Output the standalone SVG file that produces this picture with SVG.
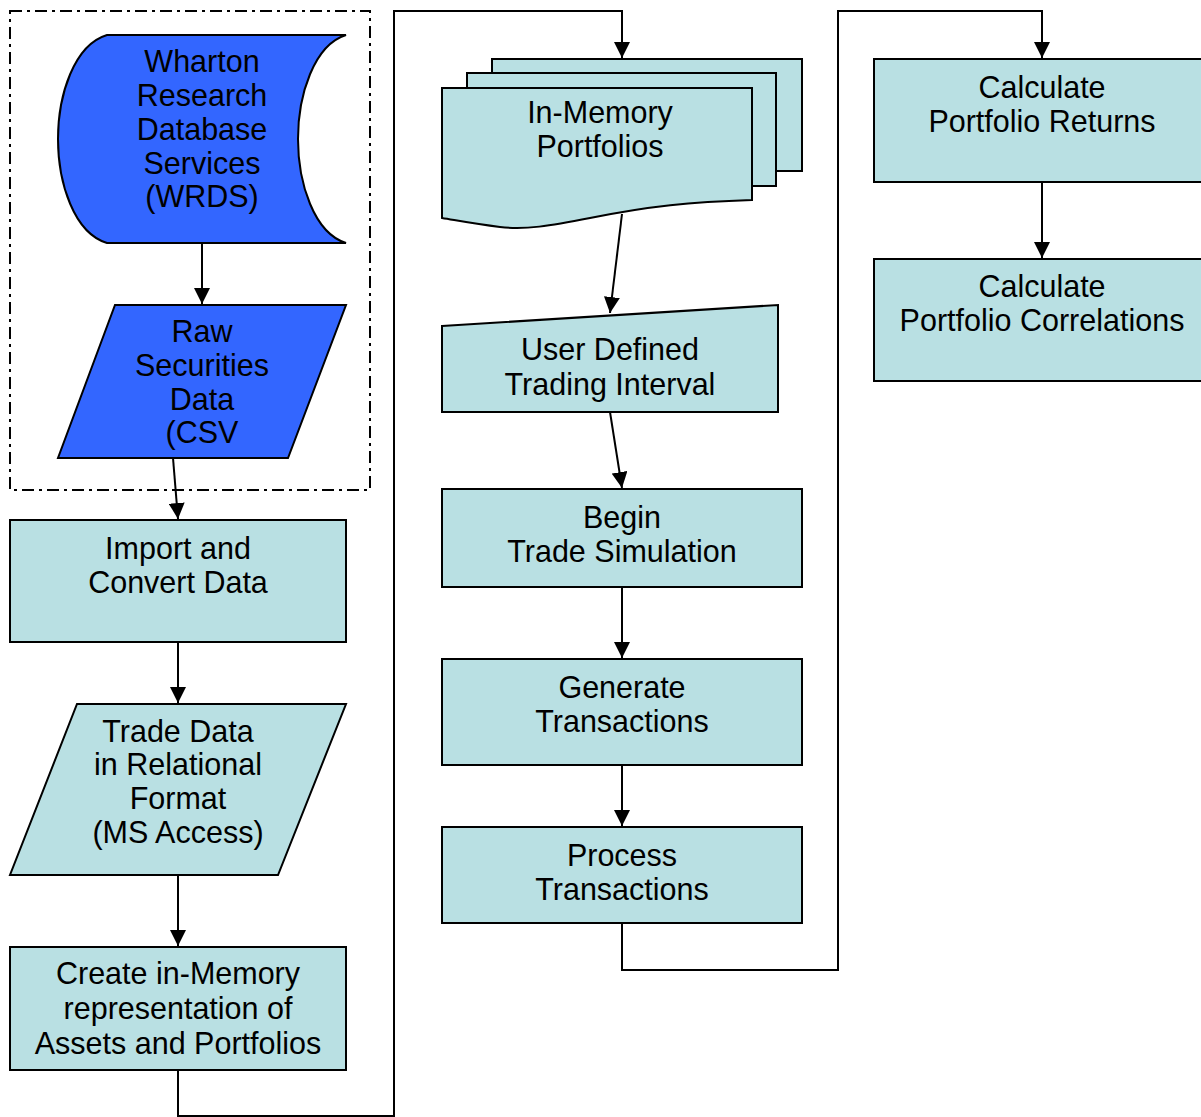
<svg xmlns="http://www.w3.org/2000/svg" width="1201" height="1117" viewBox="0 0 1201 1117">
<style>
text{font-family:"Liberation Sans",Arial,sans-serif;font-size:30.5px;fill:#000;text-anchor:middle}
.t{fill:#B9E0E3;stroke:#000;stroke-width:2}
.b{fill:#3366FF;stroke:#000;stroke-width:2}
.c{fill:none;stroke:#000;stroke-width:2}
</style>
<defs>
<marker id="ah" markerUnits="userSpaceOnUse" markerWidth="16" markerHeight="16" viewBox="0 0 16 16" refX="16" refY="8" orient="auto">
<path d="M0,0 L16,8 L0,16 Z" fill="#000"/>
</marker>
</defs>
<rect x="10" y="11" width="360" height="479" fill="none" stroke="#000" stroke-width="2" stroke-dasharray="12 5 3 5"/>
<g id="connectors">
<path class="c" d="M202,243 L202,304" marker-end="url(#ah)"/>
<path class="c" d="M173,458 L178,519" marker-end="url(#ah)"/>
<path class="c" d="M178,642 L178,703" marker-end="url(#ah)"/>
<path class="c" d="M178,875 L178,946" marker-end="url(#ah)"/>
<path class="c" d="M178,1070 L178,1116 L394,1116 L394,11 L622,11 L622,58" marker-end="url(#ah)"/>
<path class="c" d="M622,214 L610,313" marker-end="url(#ah)"/>
<path class="c" d="M610,412 L622,488" marker-end="url(#ah)"/>
<path class="c" d="M622,587 L622,658" marker-end="url(#ah)"/>
<path class="c" d="M622,765 L622,826" marker-end="url(#ah)"/>
<path class="c" d="M622,923 L622,970 L838,970 L838,11 L1042,11 L1042,58" marker-end="url(#ah)"/>
<path class="c" d="M1042,182 L1042,258" marker-end="url(#ah)"/>
</g>
<g id="wrds">
<path class="b" d="M107,35 L346,35 C314,45 298,95 298,139 C298,183 314,233 346,243 L107,243 C74,233 58,183 58,139 C58,95 74,45 107,35 Z"/>
<text x="202" y="72">Wharton</text>
<text x="202" y="106">Research</text>
<text x="202" y="140">Database</text>
<text x="202" y="174">Services</text>
<text x="202" y="207">(WRDS)</text>
</g>
<g id="raw">
<path class="b" d="M115,305 L346,305 L288,458 L58,458 Z"/>
<text x="202" y="342">Raw</text>
<text x="202" y="376">Securities</text>
<text x="202" y="410">Data</text>
<text x="202" y="443">(CSV</text>
</g>
<g id="import">
<rect class="t" x="10" y="520" width="336" height="122"/>
<text x="178" y="559">Import and</text>
<text x="178" y="593">Convert Data</text>
</g>
<g id="tradedata">
<path class="t" d="M77,704 L346,704 L278,875 L10,875 Z"/>
<text x="178" y="742">Trade Data</text>
<text x="178" y="775">in Relational</text>
<text x="178" y="809">Format</text>
<text x="178" y="843">(MS Access)</text>
</g>
<g id="create">
<rect class="t" x="10" y="947" width="336" height="123"/>
<text x="178" y="984">Create in-Memory</text>
<text x="178" y="1019">representation of</text>
<text x="178" y="1054">Assets and Portfolios</text>
</g>
<g id="portfolios">
<path class="t" d="M492,59 L802,59 L802,171 L776,171 L776,73 L492,73 Z"/>
<path class="t" d="M467,73 L776,73 L776,186 L752,186 L752,88 L467,88 Z"/>
<path class="t" d="M442,88 L752,88 L752,200 C690,202 650,206 590,218 C550,226 525,230 500,227 C475,224 460,221 442,218 Z"/>
<text x="600" y="123">In-Memory</text>
<text x="600" y="157">Portfolios</text>
</g>
<g id="interval">
<path class="t" d="M442,326 L778,305 L778,412 L442,412 Z"/>
<text x="610" y="360">User Defined</text>
<text x="610" y="395">Trading Interval</text>
</g>
<g id="begin">
<rect class="t" x="442" y="489" width="360" height="98"/>
<text x="622" y="528">Begin</text>
<text x="622" y="562">Trade Simulation</text>
</g>
<g id="generate">
<rect class="t" x="442" y="659" width="360" height="106"/>
<text x="622" y="698">Generate</text>
<text x="622" y="732">Transactions</text>
</g>
<g id="process">
<rect class="t" x="442" y="827" width="360" height="96"/>
<text x="622" y="866">Process</text>
<text x="622" y="900">Transactions</text>
</g>
<g id="returns">
<rect class="t" x="874" y="59" width="340" height="123"/>
<text x="1042" y="98">Calculate</text>
<text x="1042" y="132">Portfolio Returns</text>
</g>
<g id="correlations">
<rect class="t" x="874" y="259" width="340" height="122"/>
<text x="1042" y="297">Calculate</text>
<text x="1042" y="331">Portfolio Correlations</text>
</g>
</svg>
